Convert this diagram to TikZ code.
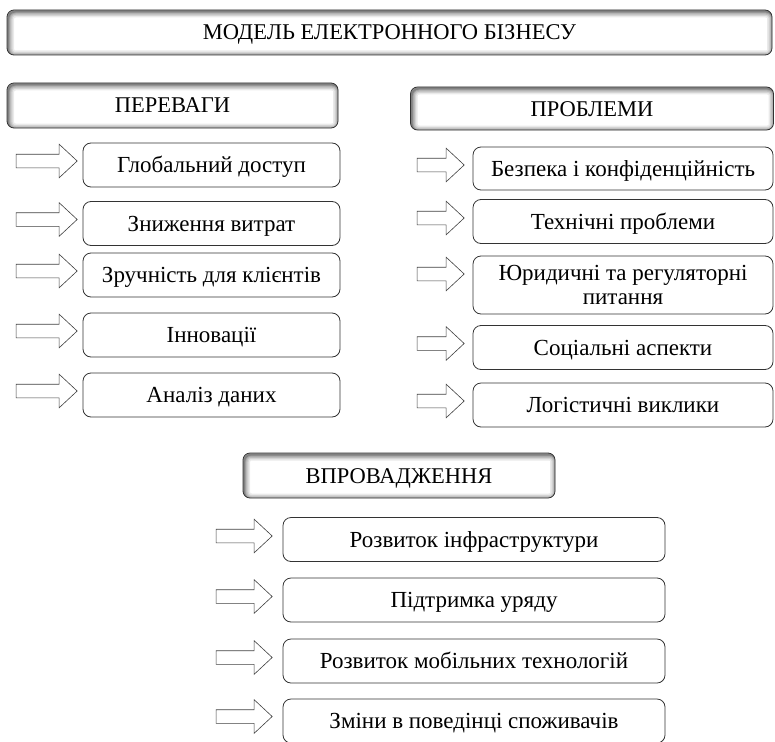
\documentclass[tikz,border=0pt]{standalone}
\usepackage{fontspec}
\setmainfont{Liberation Serif}
\usetikzlibrary{positioning,shapes.arrows}

\begin{document}
\begin{tikzpicture}
    [x=1pt,y=1pt,
    font=\fontsize{23}{24}\selectfont,
    head/.style={draw=black!80,line width=0.8pt,rounded corners=7pt,
      font=\fontsize{22.5}{24}\selectfont,text height=18pt,text depth=3pt,
      path picture={
        \foreach \w/\o in {12/0.10,9/0.12,6.5/0.15,4/0.19,2/0.3}
          \draw[line width=\w pt,draw opacity=\o,rounded corners=7pt]
            ([shift={(1.2pt,-1.5pt)}]path picture bounding box.south west)
            rectangle ([shift={(1.2pt,-1.5pt)}]path picture bounding box.north east);
      }},
    item/.style={draw=black!80,line width=0.8pt,rounded corners=8pt,
      minimum height=44pt,inner sep=2pt,text height=20.5pt,text depth=5pt},
    leftbox/.style={item,minimum width=257pt},
    rightbox/.style={item,minimum width=300pt},
    lowbox/.style={item,minimum width=382pt},
    sarrow/.style={shape=single arrow,draw=black!75,line width=0.6pt,
      inner sep=0pt,inner ysep=6.5pt,single arrow head extend=10pt,
      single arrow tip angle=86,minimum height=#1},
    sarrow/.default=61pt]

    \useasboundingbox (0,0) rectangle (775,-741);

    % headers
    \node (title) [head,minimum width=765pt,minimum height=45pt] at (389.5,-32.5) {МОДЕЛЬ ЕЛЕКТРОННОГО БІЗНЕСУ};
    \node (pros) [head,minimum width=331pt,minimum height=45pt] at (172.5,-105.5) {ПЕРЕВАГИ};
    \node (cons) [head,minimum width=363pt,minimum height=43pt] at (592,-108.5) {ПРОБЛЕМИ};
    \node (impl) [head,minimum width=312pt,minimum height=45pt] at (399,-475.5) {ВПРОВАДЖЕННЯ};

    % left column
    \node (p1) [leftbox] at (211.5,-165) {Глобальний доступ};
    \node (p2) [leftbox] at (211.5,-223.5) {Зниження витрат};
    \node (p3) [leftbox] at (211.5,-275) {Зручність для клієнтів};
    \node (p4) [leftbox] at (211.5,-335) {Інновації};
    \node (p5) [leftbox] at (211.5,-395) {Аналіз даних};

    \node (ap1) [sarrow,left=5pt of p1,yshift=4pt] {};
    \node (ap2) [sarrow,left=5pt of p2,yshift=4pt] {};
    \node (ap3) [sarrow,left=5pt of p3,yshift=4pt] {};
    \node (ap4) [sarrow,left=5pt of p4,yshift=4pt] {};
    \node (ap5) [sarrow,left=5pt of p5,yshift=4pt] {};

    % right column
    \node (q1) [rightbox,minimum height=43pt] at (623,-168.5) {Безпека і конфіденційність};
    \node (q2) [rightbox] at (623,-221.5) {Технічні проблеми};
    \node (q3) [rightbox,minimum height=58pt,align=center,text height=,text depth=] at (623,-285) {Юридичні та регуляторні\\питання};
    \node (q4) [rightbox] at (623,-347.5) {Соціальні аспекти};
    \node (q5) [rightbox] at (623,-405) {Логістичні виклики};

    \node (aq1) [sarrow=47pt,left=8pt of q1,yshift=3.5pt] {};
    \node (aq2) [sarrow=47pt,left=8pt of q2,yshift=3.5pt] {};
    \node (aq3) [sarrow=47pt,left=8pt of q3,yshift=11pt] {};
    \node (aq4) [sarrow=47pt,left=8pt of q4,yshift=4pt] {};
    \node (aq5) [sarrow=47pt,left=8pt of q5,yshift=4pt] {};

    % bottom column
    \node (r1) [lowbox] at (474,-539.5) {Розвиток інфраструктури};
    \node (r2) [lowbox] at (474,-600) {Підтримка уряду};
    \node (r3) [lowbox] at (474,-661) {Розвиток мобільних технологій};
    \node (r4) [lowbox] at (474,-721) {Зміни в поведінці споживачів};

    \node (ar1) [sarrow=56pt,left=10pt of r1,yshift=3.5pt] {};
    \node (ar2) [sarrow=56pt,left=10pt of r2,yshift=3.5pt] {};
    \node (ar3) [sarrow=56pt,left=10pt of r3,yshift=3.5pt] {};
    \node (ar4) [sarrow=56pt,left=10pt of r4,yshift=4.5pt] {};

\end{tikzpicture}
\end{document}
